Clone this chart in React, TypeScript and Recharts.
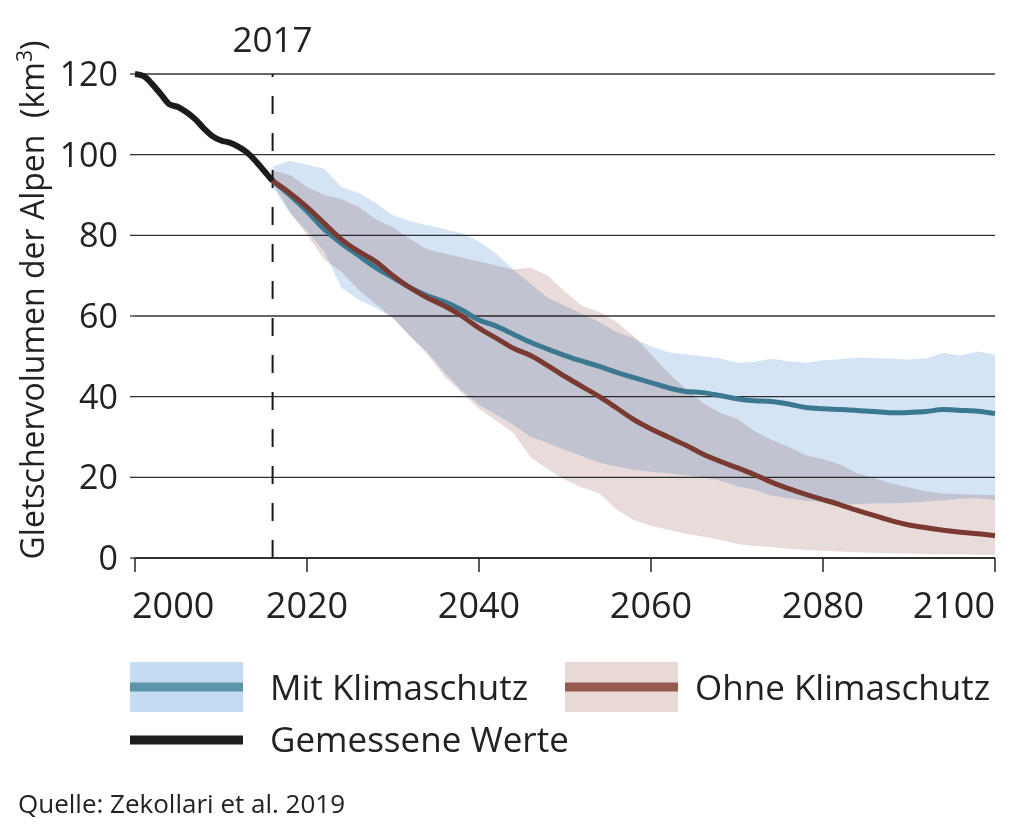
import React from "react";
import {
  ComposedChart,
  Area,
  Line,
  XAxis,
  YAxis,
  CartesianGrid,
  ReferenceLine,
} from "recharts";

// measured glacier volume (km³), yearly
const measuredYears = [
  2000, 2001, 2002, 2003, 2004, 2005, 2006, 2007, 2008, 2009, 2010, 2011, 2012,
  2013, 2014, 2015, 2016,
];
const measuredValues = [
  120, 119.5, 117.5, 115, 112.5, 111.8, 110.5, 108.8, 106.5, 104.6, 103.5, 103,
  102, 100.6, 98.5, 96, 93.5,
];

// projections, every 2 years
const projYears = [
  2016, 2018, 2020, 2022, 2024, 2026, 2028, 2030, 2032, 2034, 2036, 2038, 2040,
  2042, 2044, 2046, 2048, 2050, 2052, 2054, 2056, 2058, 2060, 2062, 2064, 2066,
  2068, 2070, 2072, 2074, 2076, 2078, 2080, 2082, 2084, 2086, 2088, 2090, 2092,
  2094, 2096, 2098, 2100,
];

// Mit Klimaschutz
const mitMedian = [
  93.5, 90, 86, 81.5, 78, 75, 72, 69.5, 67, 65, 63.5, 61.5, 59, 57.5, 55.5,
  53.5, 51.8, 50.2, 48.8, 47.5, 46, 44.7, 43.5, 42.2, 41.3, 41, 40.3, 39.5, 39,
  38.8, 38.2, 37.3, 37, 36.8, 36.6, 36.3, 36, 36.1, 36.3, 36.8, 36.6, 36.4,
  35.8,
];
const mitHigh = [
  97, 98.5, 97.5, 96.5, 92, 90.5, 88, 85, 83.5, 82.5, 81.5, 80.5, 78.5, 75.5,
  71.5, 68, 64.5, 62.5, 60.5, 58.5, 56, 54.5, 52.5, 51, 50.5, 50, 49.5, 48.4,
  48.6, 49.4, 48.8, 48.4, 49, 49.3, 49.7, 49.6, 49.4, 49.2, 49.5, 50.8, 50.2,
  51.2, 50.4,
];
const mitLow = [
  92, 85.5, 81, 76, 67, 64, 62, 59.5, 55, 51, 46, 41.5, 38, 35.5, 33, 30, 28.5,
  26.8, 25.2, 23.6, 22.7, 21.9, 21.4, 21, 20.5, 20, 19.2, 17.8, 17, 15.5, 14.8,
  14.2, 13.8, 13.2, 13.4, 13.6, 13.6, 13.7, 14, 14.3, 14.7, 14.8, 14.4,
];

// Ohne Klimaschutz
const ohneMedian = [
  93.5, 90.5, 87, 83, 79, 76, 73.5, 70, 67, 64.5, 62.5, 60, 57, 54.5, 52, 50.2,
  47.7, 45, 42.5, 40, 37.2, 34.3, 32, 30, 28, 25.8, 24, 22.4, 20.7, 18.8, 17.2,
  15.8, 14.5, 13.2, 11.8, 10.5, 9.2, 8.2, 7.5, 6.9, 6.4, 6, 5.5,
];
const ohneHigh = [
  96, 95, 92, 90, 89, 87, 84, 82, 79, 76.5, 75.5, 74.5, 73.5, 72.5, 71.5, 72,
  70, 66, 62.5, 61, 58.5, 55, 50.5, 46, 42, 38.5, 36, 34.5, 31.5, 29.3, 27.5,
  25.5, 24.5, 23.2, 21, 19.8, 18.5, 17.5, 16.5, 16, 15.8, 15.7, 15.6,
];
const ohneLow = [
  93, 86, 80, 74, 71, 66.5, 63, 59.5, 55, 50.5, 45, 41, 37, 34, 31, 25, 22,
  19.4, 17.5, 16, 12, 9.4, 8, 7, 6, 5.3, 4.5, 3.5, 3, 2.7, 2.3, 2, 1.8, 1.6,
  1.4, 1.3, 1.2, 1.1, 1, 0.9, 0.9, 0.8, 0.8,
];

const xTicks = [2000, 2020, 2040, 2060, 2080, 2100];
const yTicks = [0, 20, 40, 60, 80, 100, 120];

const FONT = '"Open Sans", "DejaVu Sans", sans-serif';
const TEXT = "#222";

type Row = {
  year: number;
  measured?: number;
  mit?: number;
  ohne?: number;
  mitBand?: [number, number];
  ohneBand?: [number, number];
};

const buildRows = (): Row[] => {
  const byYear = new Map<number, Row>();
  const get = (y: number) => {
    let r = byYear.get(y);
    if (!r) {
      r = { year: y };
      byYear.set(y, r);
    }
    return r;
  };
  measuredYears.forEach((y, i) => {
    get(y).measured = measuredValues[i];
  });
  projYears.forEach((y, i) => {
    const r = get(y);
    r.mit = mitMedian[i];
    r.ohne = ohneMedian[i];
    r.mitBand = [mitLow[i], mitHigh[i]];
    r.ohneBand = [ohneLow[i], ohneHigh[i]];
  });
  return [...byYear.values()].sort((a, b) => a.year - b.year);
};

const rows = buildRows();

const XTick = ({ x, y, payload }: any) => {
  const v = payload.value;
  const anchor = v === 2000 ? "start" : v === 2100 ? "end" : "middle";
  return (
    <text
      x={v === 2000 ? x - 3 : x}
      y={y}
      dy={32}
      textAnchor={anchor}
      fontSize={36}
      fill={TEXT}
      fontFamily={FONT}
    >
      {v}
    </text>
  );
};

const YTick = ({ x, y, payload }: any) => (
  <text
    x={x}
    y={y}
    dy={12}
    textAnchor="end"
    fontSize={34}
    fill={TEXT}
    fontFamily={FONT}
  >
    {payload.value}
  </text>
);

export default function App() {
  return (
    <div
      style={{
        position: "absolute",
        left: 0,
        top: 0,
        width: 1024,
        height: 828,
        background: "#fff",
        fontFamily: FONT,
      }}
    >
      <style>{`.band { mix-blend-mode: multiply; }`}</style>
      <ComposedChart
        width={1024}
        height={640}
        data={rows}
        margin={{ top: 74, right: 29, bottom: 0, left: 0 }}
      >
        <CartesianGrid
          horizontal
          vertical={false}
          stroke="#333"
          strokeWidth={1.3}
        />
        <XAxis
          dataKey="year"
          type="number"
          domain={[2000, 2100]}
          ticks={xTicks}
          height={82}
          tickSize={14}
          tickMargin={14}
          axisLine={{ stroke: "#222", strokeWidth: 1.5 }}
          tickLine={{ stroke: "#222", strokeWidth: 1.5 }}
          tick={<XTick />}
          interval={0}
        />
        <YAxis
          type="number"
          domain={[0, 120]}
          ticks={yTicks}
          width={135}
          axisLine={false}
          tickSize={5}
          tickMargin={12}
          tickLine={{ stroke: "#333", strokeWidth: 1.3 }}
          tick={<YTick />}
          interval={0}
        />
        <Area
          className="band"
          dataKey="mitBand"
          type="linear"
          stroke="none"
          fill="#d4e4f5"
          fillOpacity={1}
          isAnimationActive={false}
          dot={false}
          activeDot={false}
        />
        <Area
          className="band"
          dataKey="ohneBand"
          type="linear"
          stroke="none"
          fill="#e9dbd9"
          fillOpacity={1}
          isAnimationActive={false}
          dot={false}
          activeDot={false}
        />
        <ReferenceLine
          x={2016}
          stroke="#1a1a1a"
          strokeWidth={2}
          strokeDasharray="18 19"
          label={{
            value: "2017",
            position: "top",
            offset: 22,
            fontSize: 35,
            fill: TEXT,
            fontFamily: FONT,
          }}
        />
        <Line
          dataKey="mit"
          type="monotone"
          stroke="#3d7891"
          strokeWidth={5}
          dot={false}
          activeDot={false}
          isAnimationActive={false}
        />
        <Line
          dataKey="ohne"
          type="monotone"
          stroke="#7a3a32"
          strokeWidth={5}
          dot={false}
          activeDot={false}
          isAnimationActive={false}
        />
        <Line
          dataKey="measured"
          type="monotone"
          stroke="#1c1c1c"
          strokeWidth={6}
          dot={false}
          activeDot={false}
          isAnimationActive={false}
        />
      </ComposedChart>

      <svg
        width={1024}
        height={828}
        style={{ position: "absolute", left: 0, top: 0, pointerEvents: "none" }}
        fontFamily={FONT}
        fill={TEXT}
      >
        {/* Achsentitel */}
        <text
          transform="translate(44,300) rotate(-90)"
          textAnchor="middle"
          fontSize={32}
          style={{ whiteSpace: "pre" }}
        >
          {"Gletschervolumen der Alpen  (km"}
          <tspan fontSize={21} dy={-12}>
            3
          </tspan>
          <tspan dy={12}>)</tspan>
        </text>

        {/* Legende */}
        <rect x={130} y={662} width={113} height={50} fill="#c5dcf3" />
        <line x1={130} x2={243} y1={687} y2={687} stroke="#5d95a8" strokeWidth={9} />
        <text x={270} y={700} fontSize={35}>
          Mit Klimaschutz
        </text>
        <rect x={565} y={662} width={113} height={50} fill="#e8d9d7" />
        <line x1={565} x2={678} y1={687} y2={687} stroke="#96584f" strokeWidth={9} />
        <text x={695} y={700} fontSize={35}>
          Ohne Klimaschutz
        </text>
        <line x1={130} x2={243} y1={740} y2={740} stroke="#1f1f1f" strokeWidth={9} />
        <text x={270} y={752} fontSize={35}>
          Gemessene Werte
        </text>

        <text x={18} y={813} fontSize={26}>
          Quelle: Zekollari et al. 2019
        </text>
      </svg>
    </div>
  );
}
